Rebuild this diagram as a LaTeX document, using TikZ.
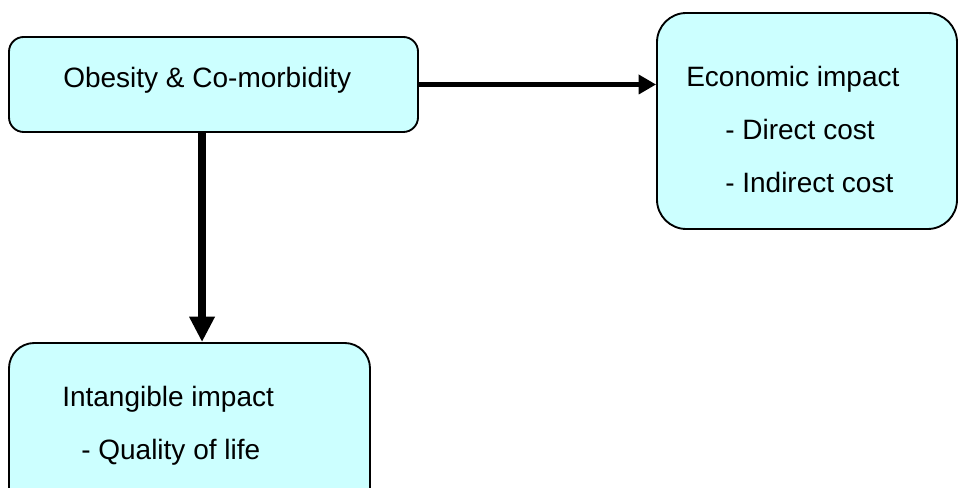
\documentclass[tikz,border=0pt]{standalone}
\usepackage{fontspec}
\setmainfont{Liberation Sans}
\usepackage{xcolor}
\usepackage{tikz}
\usetikzlibrary{arrows.meta}

\definecolor{boxcyan}{HTML}{CCFFFF}

\tikzset{
  impactbox/.style={draw=black,fill=boxcyan,line width=1.4pt,rectangle,inner sep=0pt},
  impacttext/.style={anchor=base west,inner sep=0pt,font=\fontsize{21}{25}\selectfont},
}

\begin{document}
\begin{tikzpicture}[x=0.75pt,y=0.75pt]
\useasboundingbox (0,0) rectangle (959,488);
\begin{scope}[>={Triangle[length=13pt,width=14pt]}]
    % boxes
    \node[impactbox,rounded corners=11pt,minimum width=306.75pt,minimum height=71.25pt]
        (obesity) at (213.5,403.5) {};
    \node[impactbox,rounded corners=22pt,minimum width=225pt,minimum height=162pt]
        (economic) at (807,367) {};
    \node[impactbox,rounded corners=19pt,minimum width=270.75pt,minimum height=135pt]
        (intangible) at (189.5,55) {};

    % labels
    \node[impacttext] (obesitytxt) at (63,400) {Obesity \& Co-morbidity};
    \node[impacttext] (economictxt) at (686,401) {Economic impact};
    \node[impacttext] (directtxt) at (725,348) {- Direct cost};
    \node[impacttext] (indirecttxt) at (725,295) {- Indirect cost};
    \node[impacttext] (intangibletxt) at (62,81) {Intangible impact};
    \node[impacttext] (qualitytxt) at (81,28) {- Quality of life};

    % arrows
    \draw[black,line width=3.75pt,->] (obesity.east) -- (obesity.east -| economic.west);
    \draw[black,line width=5.8pt,>={Triangle[length=19pt,width=18pt]},->]
        ([xshift=-8.6pt]obesity.south) -- ([xshift=-8.6pt]obesity.south |- intangible.north);
\end{scope}
\end{tikzpicture}
\end{document}
